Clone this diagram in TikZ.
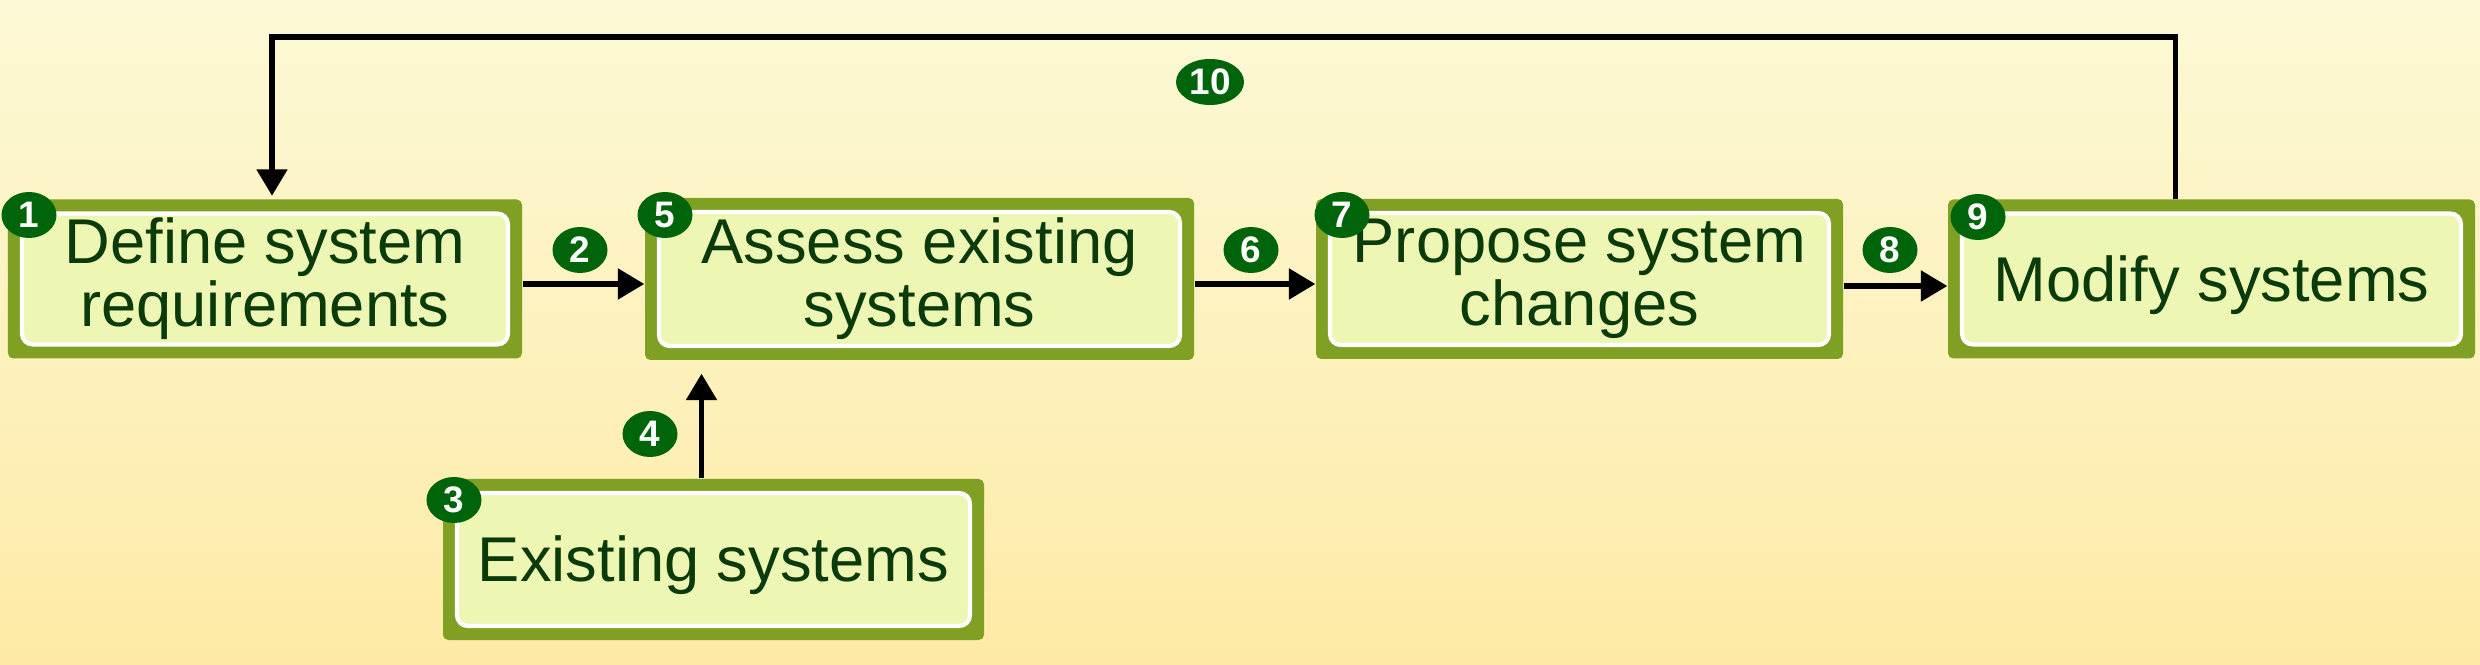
\documentclass[tikz,border=0pt]{standalone}
\usepackage{fontspec}
\setmainfont{Liberation Sans}
\usepackage{tikz}
\usetikzlibrary{positioning,arrows.meta,shapes.geometric}
\definecolor{paperlight}{HTML}{FCF9D6}
\definecolor{paperdeep}{HTML}{FEEAA6}
\definecolor{olivebox}{HTML}{7FA022}
\definecolor{boxfill}{HTML}{EEF6B4}
\definecolor{inkgreen}{HTML}{0B3A0B}
\definecolor{badgegreen}{HTML}{00650A}

\begin{document}
\begin{tikzpicture}
  \tikzstyle{stage}=[rectangle, fill=olivebox, rounded corners=1.5pt, inner sep=0pt,
    text=inkgreen, align=center, font=\fontsize{18}{18}\selectfont,
    execute at begin node={\rule{0pt}{16.5pt}},
    path picture={\draw[white, line width=1.2pt, fill=boxfill, rounded corners=3pt]
      ([shift={(4pt,4pt)}]path picture bounding box.south west) rectangle
      ([shift={(-4pt,-4pt)}]path picture bounding box.north east);}]
  \tikzstyle{badge}=[ellipse, fill=badgegreen, text=white, inner sep=0pt,
    minimum width=0.55cm, minimum height=0.46cm, font=\bfseries\fontsize{10.5}{10.5}\selectfont]
  \tikzstyle{flow}=[-{Triangle[width=8.5pt,length=7.5pt]}, line width=1.5pt, black]

  \fill[top color=paperlight, bottom color=paperdeep] (0,0) rectangle (24.8,6.64);

  \node[stage, minimum width=5.14cm, minimum height=1.59cm] (S_1) at (2.65,3.85)
    {Define system\\requirements};
  \node[stage, minimum width=5.49cm, minimum height=1.62cm] (S_5) at (9.195,3.85)
    {Assess existing\\systems};
  \node[stage, minimum width=5.27cm, minimum height=1.60cm] (S_7) at (15.795,3.85)
    {Propose system\\changes};
  \node[stage, minimum width=5.27cm, minimum height=1.59cm] (S_9) at (22.115,3.85)
    {Modify systems};
  \node[stage, minimum width=5.41cm, minimum height=1.61cm] (S_3) at (7.135,1.045)
    {Existing systems};

  \coordinate (loop) at (12,6.27);

  \draw[flow] ([yshift=-0.05cm]S_1.east) -- ([yshift=-0.05cm]S_5.west);
  \draw[flow] ([yshift=-0.05cm]S_5.east) -- ([yshift=-0.05cm]S_7.west);
  \draw[flow] ([yshift=-0.07cm]S_7.east) -- ([yshift=-0.07cm]S_9.west);
  \draw[flow] ([xshift=-0.12cm]S_3.north) -- ([xshift=-0.12cm,yshift=-0.13cm]S_3.north |- S_5.south);
  \draw[flow, shorten >=0.03cm] ([xshift=-0.36cm]S_9.north) |- (loop) -| ([xshift=0.07cm]S_1.north);

  \node[badge] (B_1) at (0.29,4.49) {1};
  \node[badge] (B_2) at (5.80,4.14) {2};
  \node[badge] (B_3) at (4.54,1.64) {3};
  \node[badge] (B_4) at (6.50,2.30) {4};
  \node[badge] (B_5) at (6.65,4.49) {5};
  \node[badge] (B_6) at (12.51,4.14) {6};
  \node[badge] (B_7) at (13.42,4.49) {7};
  \node[badge] (B_8) at (18.90,4.14) {8};
  \node[badge] (B_9) at (19.78,4.47) {9};
  \node[badge, minimum width=0.68cm] (B_10) at (12.10,5.82) {10};
\end{tikzpicture}
\end{document}
